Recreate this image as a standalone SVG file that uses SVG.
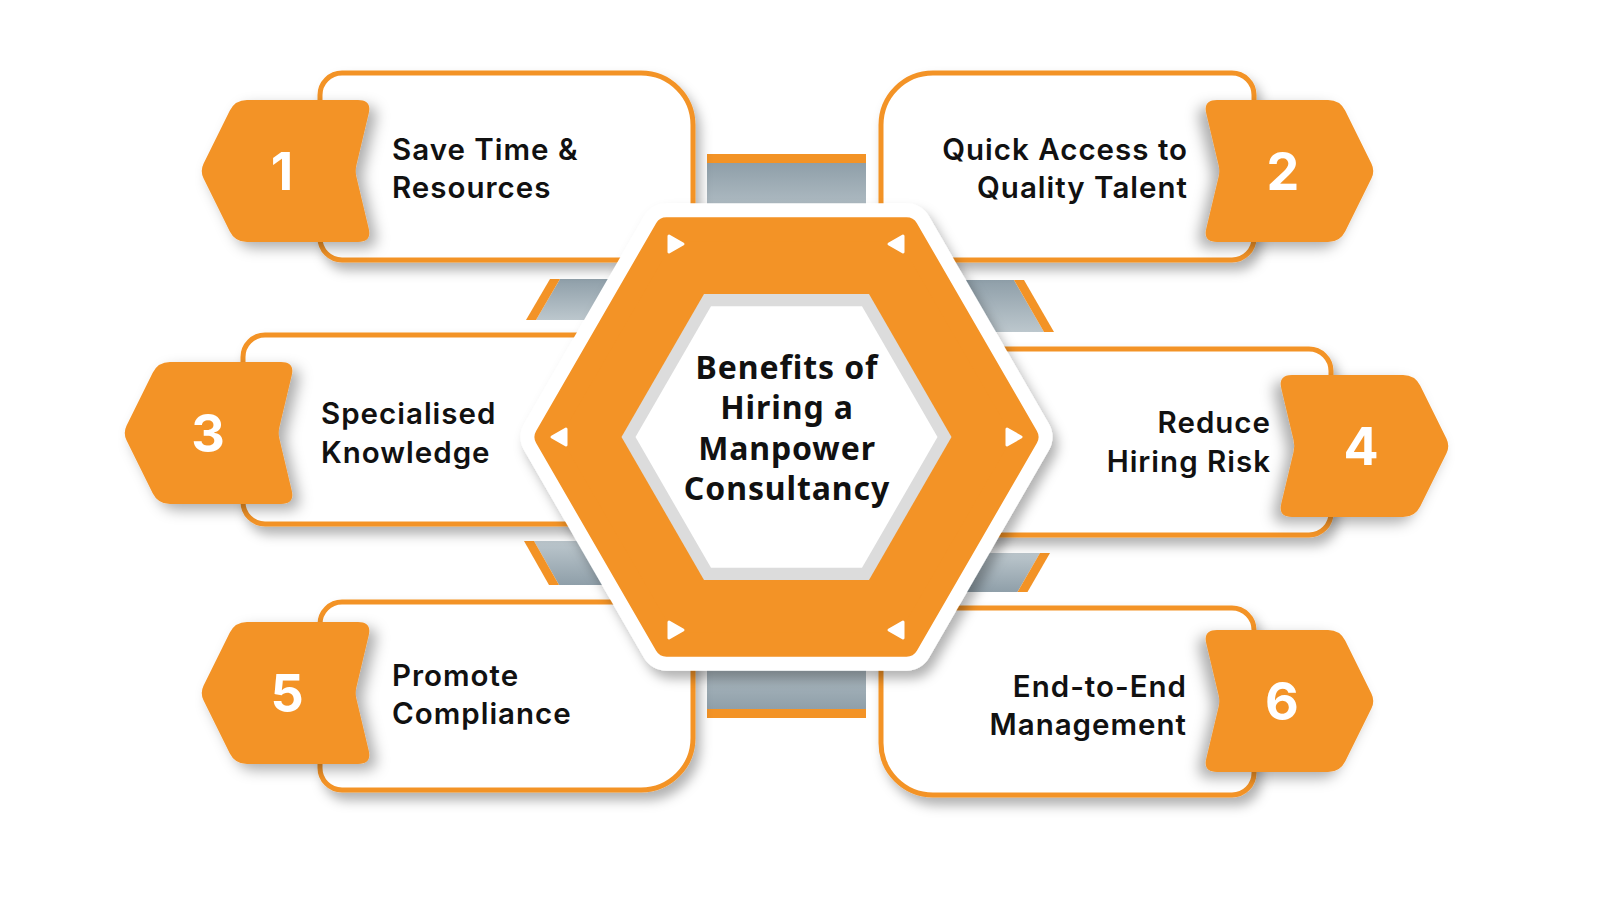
<svg xmlns="http://www.w3.org/2000/svg" width="1600" height="900" viewBox="0 0 1600 900">
  <defs>
    <style>
      .box { fill: #ffffff; stroke: #F39326; stroke-width: 5; }
      .badge { fill: #F39326; }
      .num { font-family: Inter, "Liberation Sans", sans-serif; font-weight: 700; font-size: 52px; fill: #ffffff; text-anchor: middle; }
      .lbl { font-family: Inter, "Liberation Sans", sans-serif; font-weight: 600; font-size: 29.5px; letter-spacing: 1px; fill: #111111; }
      .end { text-anchor: end; }
      .ctr { font-family: "Noto Sans", "Liberation Sans", sans-serif; font-weight: 700; font-size: 32px; letter-spacing: 0.9px; fill: #111111; text-anchor: middle; }
      .orange { fill: #F39326; }
      .gray { fill: url(#gv); }
      .tri { fill: #ffffff; stroke: #ffffff; stroke-width: 3; stroke-linejoin: round; }
    </style>
    <linearGradient id="gv" x1="0" y1="0" x2="0" y2="1">
      <stop offset="0" stop-color="#8f9fa9"/>
      <stop offset="1" stop-color="#bcc7cd"/>
    </linearGradient>
    <linearGradient id="gv2" x1="0" y1="1" x2="0" y2="0">
      <stop offset="0" stop-color="#8f9fa9"/>
      <stop offset="1" stop-color="#bcc7cd"/>
    </linearGradient>
    <filter id="sh" x="-20%" y="-20%" width="140%" height="150%">
      <feDropShadow dx="5" dy="8" stdDeviation="6" flood-color="#000000" flood-opacity="0.3"/>
    </filter>
    <filter id="shb" x="-20%" y="-20%" width="150%" height="150%">
      <feDropShadow dx="7" dy="6" stdDeviation="7" flood-color="#000000" flood-opacity="0.32"/>
    </filter>
    <path id="badgeL" d="M 3.5,-7.2 L 29.7,-60.2 Q 35,-71 47,-71 L 158,-71 Q 172,-71 168.7,-57.4 L 156.4,-5.8 Q 155,0 156.4,5.8 L 168.7,57.4 Q 172,71 158,71 L 47,71 Q 35,71 29.7,60.2 L 3.5,7.2 Q 0,0 3.5,-7.2 Z"/>
    <path id="triR" d="M -6,-8 L 8,0 L -6,8 Z"/>
  </defs>
  <rect width="1600" height="900" fill="#ffffff"/>

  <g id="connectors">
    <rect class="gray" x="707" y="163" width="159" height="62"/>
    <rect class="orange" x="707" y="154" width="159" height="9"/>
    <rect x="707" y="650" width="159" height="59" fill="url(#gv2)"/>
    <rect class="orange" x="707" y="709" width="159" height="9"/>
    <polygon class="gray" points="560,279 670,279 646,320 536,320"/>
    <polygon class="orange" points="550,279 560,279 536,320 526,320"/>
    <polygon fill="url(#gv2)" points="534,541 650,541 675,585 559,585"/>
    <polygon class="orange" points="524,541 534,541 559,585 549,585"/>
    <polygon class="gray" points="904,280 1014,280 1044,332 934,332"/>
    <polygon class="orange" points="1014,280 1024,280 1054,332 1044,332"/>
    <polygon fill="url(#gv2)" points="930,553 1040,553 1017.5,592 907.5,592"/>
    <polygon class="orange" points="1040,553 1050,553 1027.5,592 1017.5,592"/>
  </g>

  <g id="node1">
    <path class="box" filter="url(#sh)" d="M 342,73 H 641 A 52 52 0 0 1 693,125 V 238 A 22 22 0 0 1 671,260 H 342 A 22 22 0 0 1 320,238 V 95 A 22 22 0 0 1 342,73 Z"/>
    <use href="#badgeL" class="badge" filter="url(#shb)" transform="translate(200,171)"/>
    <text class="num" x="282" y="190">1</text>
    <text class="lbl" x="392" y="160">Save Time &amp;</text>
    <text class="lbl" x="392" y="198">Resources</text>
  </g>

  <g id="node2">
    <path class="box" filter="url(#sh)" d="M 933,73 H 1232 A 22 22 0 0 1 1254,95 V 238 A 22 22 0 0 1 1232,260 H 903 A 22 22 0 0 1 881,238 V 125 A 52 52 0 0 1 933,73 Z"/>
    <use href="#badgeL" class="badge" filter="url(#shb)" transform="translate(1375,171) scale(-1,1)"/>
    <text class="num" x="1283" y="190">2</text>
    <text class="lbl end" x="1188" y="160">Quick Access to</text>
    <text class="lbl end" x="1188" y="198">Quality Talent</text>
  </g>

  <g id="node3">
    <rect class="box" filter="url(#sh)" x="243" y="335" width="377" height="189" rx="22"/>
    <use href="#badgeL" class="badge" filter="url(#shb)" transform="translate(123,433)"/>
    <text class="num" x="208" y="452">3</text>
    <text class="lbl" x="321" y="424">Specialised</text>
    <text class="lbl" x="321" y="463">Knowledge</text>
  </g>

  <g id="node4">
    <rect class="box" filter="url(#sh)" x="954" y="349" width="377" height="186" rx="22"/>
    <use href="#badgeL" class="badge" filter="url(#shb)" transform="translate(1450,446) scale(-1,1)"/>
    <text class="num" x="1361" y="465">4</text>
    <text class="lbl end" x="1271" y="433">Reduce</text>
    <text class="lbl end" x="1271" y="472">Hiring Risk</text>
  </g>

  <g id="node5">
    <path class="box" filter="url(#sh)" d="M 342,602 H 671 A 22 22 0 0 1 693,624 V 738 A 52 52 0 0 1 641,790 H 342 A 22 22 0 0 1 320,768 V 624 A 22 22 0 0 1 342,602 Z"/>
    <use href="#badgeL" class="badge" filter="url(#shb)" transform="translate(200,693)"/>
    <text class="num" x="287" y="712">5</text>
    <text class="lbl" x="392" y="686">Promote</text>
    <text class="lbl" x="392" y="724">Compliance</text>
  </g>

  <g id="node6">
    <path class="box" filter="url(#sh)" d="M 903,608 H 1232 A 22 22 0 0 1 1254,630 V 773 A 22 22 0 0 1 1232,795 H 933 A 52 52 0 0 1 881,743 V 630 A 22 22 0 0 1 903,608 Z"/>
    <use href="#badgeL" class="badge" filter="url(#shb)" transform="translate(1375,701) scale(-1,1)"/>
    <text class="num" x="1282" y="720">6</text>
    <text class="lbl end" x="1187" y="697">End-to-End</text>
    <text class="lbl end" x="1187" y="735">Management</text>
  </g>

  <g id="center">
    <polygon filter="url(#sh)" fill="#ffffff" stroke="#ffffff" stroke-width="52" stroke-linejoin="round" points="1026.5,437 906.5,229.2 666.5,229.2 546.5,437 666.5,644.8 906.5,644.8"/>
    <polygon fill="#F39326" stroke="#F39326" stroke-width="24" stroke-linejoin="round" points="1026.5,437 906.5,229.2 666.5,229.2 546.5,437 666.5,644.8 906.5,644.8"/>
    <polygon fill="#dcdcdc" points="951.5,437 869,294.1 704,294.1 621.5,437 704,579.9 869,579.9"/>
    <polygon fill="#ffffff" points="937.5,437 862,306.2 711,306.2 635.5,437 711,567.8 862,567.8"/>
    <use href="#triR" class="tri" transform="translate(675,244)"/>
    <use href="#triR" class="tri" transform="translate(897,244) scale(-1,1)"/>
    <use href="#triR" class="tri" transform="translate(560,437) scale(-1,1)"/>
    <use href="#triR" class="tri" transform="translate(1013,437)"/>
    <use href="#triR" class="tri" transform="translate(675,630)"/>
    <use href="#triR" class="tri" transform="translate(897,630) scale(-1,1)"/>
    <text class="ctr" x="787" y="379">Benefits of</text>
    <text class="ctr" x="787" y="419">Hiring a</text>
    <text class="ctr" x="787" y="460">Manpower</text>
    <text class="ctr" x="787" y="500">Consultancy</text>
  </g>
</svg>
